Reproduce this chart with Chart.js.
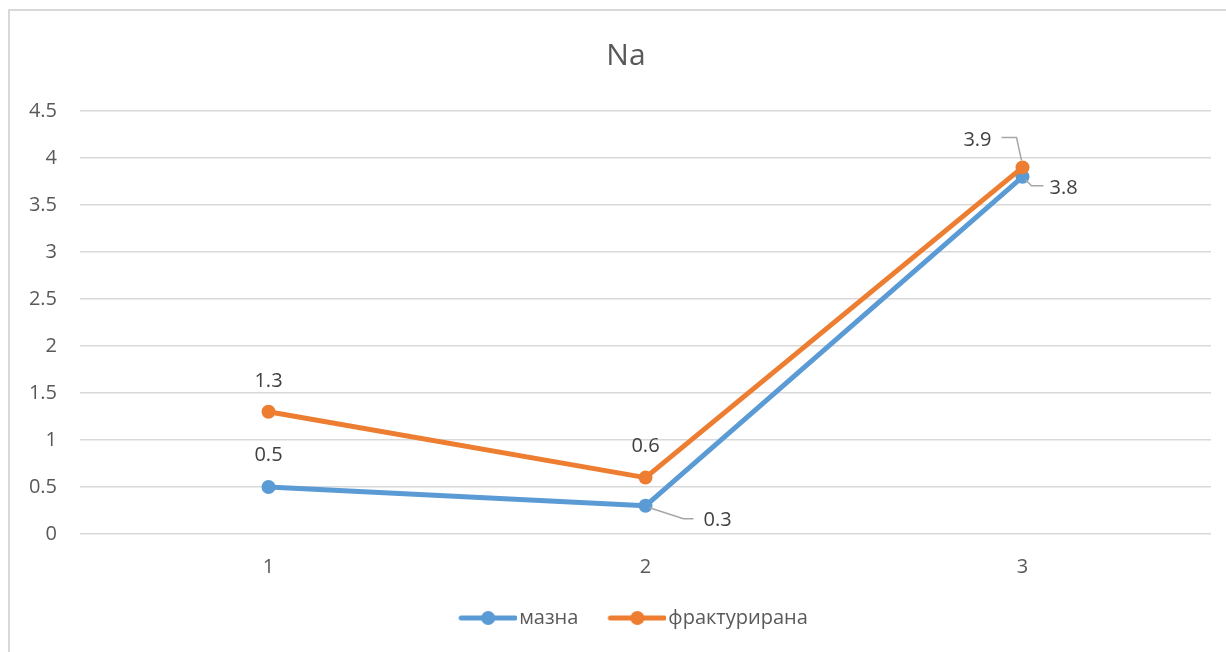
<!DOCTYPE html>
<html>
<head>
<meta charset="utf-8">
<script src="https://cdn.jsdelivr.net/npm/chart.js@4/dist/chart.umd.min.js"></script>
<style>
  html, body { margin: 0; padding: 0; background: #fff; overflow: hidden; }
  #wrap { position: relative; width: 1226px; height: 652px; overflow: hidden; }
  #frame { position: absolute; left: 8px; top: 9px; width: 1300px; height: 700px;
           border: 2px solid #d9d9d9; box-sizing: border-box; }
  #c { position: absolute; left: 0; top: 0; }
</style>
</head>
<body>
<div id="wrap">
  <div id="frame"></div>
  <canvas id="c" width="1226" height="652"></canvas>
</div>
<script>
// ---- data ----
const titleText = 'Na';
const categories = ['1', '2', '3'];
const seriesNames = ['мазна', 'фрактурирана'];
const maznaValues = [0.5, 0.3, 3.8];
const frakturiranaValues = [1.3, 0.6, 3.9];
const yTickValues = [0, 0.5, 1, 1.5, 2, 2.5, 3, 3.5, 4, 4.5];
const yTickLabels = ['0', '0.5', '1', '1.5', '2', '2.5', '3', '3.5', '4', '4.5'];

// ---- styling ----
const BLUE = '#5B9BD5';
const ORANGE = '#ED7D31';
const FONT = '"Open Sans", "DejaVu Sans", sans-serif';
const AXIS_TEXT = '#595959';
const LABEL_TEXT = '#404040';

// legend swatch: short line with a dot in the middle (left part of the image is empty)
function swatch(color) {
  const c = document.createElement('canvas');
  c.width = 86; c.height = 16;
  const g = c.getContext('2d');
  g.strokeStyle = color; g.lineWidth = 5; g.lineCap = 'round';
  g.beginPath(); g.moveTo(30, 8); g.lineTo(84, 8); g.stroke();
  g.fillStyle = color;
  g.beginPath(); g.arc(57, 8, 7, 0, Math.PI * 2); g.fill();
  return c;
}

// value labels, some with leader lines, placed relative to each point
const labelPlacement = [
  [
    { dx: 0, dy: -32, align: 'center' },
    { dx: 58, dy: 14, align: 'left', leader: [[4, 2], [38, 13], [48, 13]] },
    { dx: 27, dy: 11, align: 'left', leader: [[3, 3], [9, 9], [21, 9]] }
  ],
  [
    { dx: 0, dy: -31, align: 'center' },
    { dx: 0, dy: -31, align: 'center' },
    { dx: -31, dy: -27, align: 'right', leader: [[-21, -30], [-6, -30], [-1, -7]] }
  ]
];

const valueLabels = {
  id: 'valueLabels',
  afterDatasetsDraw(chart) {
    const ctx = chart.ctx;
    ctx.save();
    ctx.font = '20px ' + FONT;
    ctx.textBaseline = 'middle';
    chart.data.datasets.forEach((ds, di) => {
      const meta = chart.getDatasetMeta(di);
      meta.data.forEach((pt, i) => {
        const p = labelPlacement[di][i];
        if (p.leader) {
          ctx.strokeStyle = '#a6a6a6';
          ctx.lineWidth = 1.5;
          ctx.beginPath();
          p.leader.forEach(([lx, ly], k) => {
            if (k === 0) ctx.moveTo(pt.x + lx, pt.y + ly);
            else ctx.lineTo(pt.x + lx, pt.y + ly);
          });
          ctx.stroke();
        }
        ctx.fillStyle = LABEL_TEXT;
        ctx.textAlign = p.align;
        ctx.fillText(String(ds.data[i]), pt.x + p.dx, pt.y + p.dy);
      });
    });
    ctx.restore();
  }
};

// centre the title and legend on the outer frame rather than the canvas
const frameCentering = {
  id: 'frameCentering',
  afterLayout(chart) {
    if (chart.titleBlock) chart.titleBlock.left = 41;
    if (chart.legend) chart.legend.left = 36;
  }
};

const swatches = [swatch(BLUE), swatch(ORANGE)];

new Chart(document.getElementById('c'), {
  type: 'line',
  data: {
    labels: categories,
    datasets: [
      {
        label: seriesNames[0], data: maznaValues, order: 1,
        borderColor: BLUE, backgroundColor: BLUE,
        borderWidth: 5, pointRadius: 7, pointBorderWidth: 0,
        borderCapStyle: 'round', borderJoinStyle: 'round', tension: 0
      },
      {
        label: seriesNames[1], data: frakturiranaValues, order: 0,
        borderColor: ORANGE, backgroundColor: ORANGE,
        borderWidth: 5, pointRadius: 7, pointBorderWidth: 0,
        borderCapStyle: 'round', borderJoinStyle: 'round', tension: 0
      }
    ]
  },
  options: {
    responsive: false,
    animation: false,
    events: [],
    layout: { padding: { left: 0, right: 15, top: 0, bottom: 14 } },
    plugins: {
      title: {
        display: true, text: titleText, color: AXIS_TEXT,
        font: { family: FONT, size: 30, weight: 'normal' },
        padding: { top: 38, bottom: 37 }
      },
      legend: {
        position: 'bottom',
        labels: {
          usePointStyle: true, pointStyleWidth: 70, boxHeight: 16,
          padding: 10, color: AXIS_TEXT,
          font: { family: FONT, size: 20 },
          generateLabels: (chart) => chart.data.datasets.map((ds, i) => ({
            text: ds.label, pointStyle: swatches[i], datasetIndex: i,
            fillStyle: ds.borderColor, strokeStyle: ds.borderColor,
            lineWidth: 0, hidden: false, fontColor: AXIS_TEXT
          }))
        }
      },
      tooltip: { enabled: false }
    },
    scales: {
      x: {
        offset: true,
        grid: { display: false },
        border: { display: false },
        ticks: { color: AXIS_TEXT, font: { family: FONT, size: 20 }, padding: 13 },
        afterFit: (s) => { s.height = 64; }
      },
      y: {
        min: 0, max: 4.5,
        afterBuildTicks: (s) => { s.ticks = yTickValues.map(v => ({ value: v })); },
        grid: { color: '#d9d9d9', lineWidth: 1.5, drawTicks: false },
        border: { display: false },
        ticks: {
          color: AXIS_TEXT, font: { family: FONT, size: 20 }, padding: 23,
          callback: (v) => yTickLabels[yTickValues.indexOf(v)]
        },
        afterFit: (s) => { s.width = 80; }
      }
    }
  },
  plugins: [valueLabels, frameCentering]
});
</script>
</body>
</html>
